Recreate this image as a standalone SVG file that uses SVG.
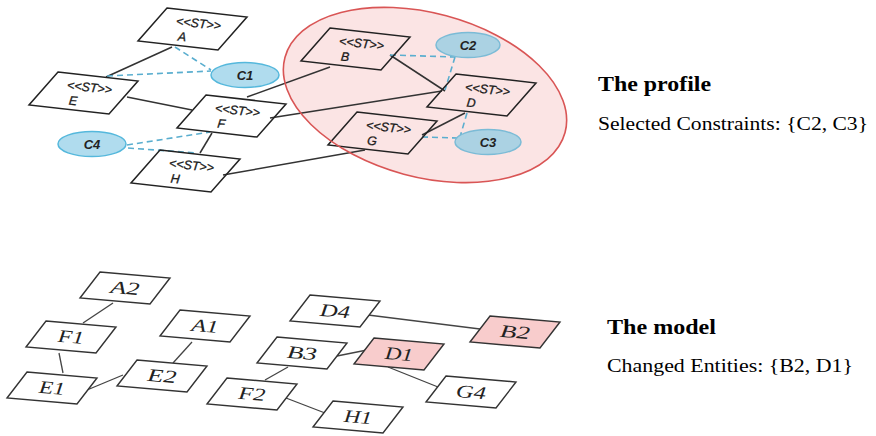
<svg xmlns="http://www.w3.org/2000/svg" xmlns:xlink="http://www.w3.org/1999/xlink" width="876" height="436" viewBox="0 0 876 436">
  <style>
    .st { fill: none; stroke: #222; stroke-width: 1.5; }
    .stl { font-family: "Liberation Sans", Arial, sans-serif; font-style: italic; font-size: 12.5px; fill: #1a1a1a; stroke: #1a1a1a; stroke-width: 0.3; text-anchor: middle; }
    .con { fill: #b0dcee; stroke: #55b8dc; stroke-width: 1.5; }
    .conl { font-family: "Liberation Sans", Arial, sans-serif; font-style: italic; font-weight: bold; font-size: 13px; fill: #222; text-anchor: middle; }
    .link { stroke: #333; stroke-width: 1.5; fill: none; }
    .dash { stroke: #5aaecf; stroke-width: 1.6; stroke-dasharray: 6 4; fill: none; }
    .ent { fill: #fff; stroke: #333; stroke-width: 1.4; }
    .hot { fill: #f8cccc; }
    .entl { font-family: "Liberation Serif", "Times New Roman", serif; font-style: italic; font-size: 18px; fill: #222; text-anchor: middle; }
    .thin { stroke: #444; stroke-width: 1.3; fill: none; }
    .head { font-family: "Liberation Serif", "Times New Roman", serif; font-weight: bold; font-size: 22px; fill: #000; }
    .sub { font-family: "Liberation Serif", "Times New Roman", serif; font-size: 18.5px; fill: #000; }
  </style>
  <defs>
    <!-- slanted box for stereotyped elements -->
    <path id="stbox" d="M0,0 L80,9 L51,42 L-29,33 Z"/>
    <!-- slanted box for model entities -->
    <path id="entbox" d="M0,0 L70,6 L50,32 L-20,26 Z"/>
    <ellipse id="region" cx="425" cy="95" rx="145" ry="82" transform="rotate(15 425 95)"/>
  </defs>

  <!-- profile selection region: tint underneath -->
  <use xlink:href="#region" fill="#fbe4e4" stroke="none"/>

  <!-- ===== profile: connectors ===== -->
  <g id="profile-connectors">
    <line class="link" x1="172" y1="47" x2="106" y2="77"/>
    <line class="link" x1="127" y1="97" x2="192" y2="110"/>
    <line class="link" x1="247" y1="97" x2="330" y2="67"/>
    <line class="link" x1="270" y1="118" x2="442" y2="91"/>
    <line class="link" x1="212" y1="133" x2="200" y2="153"/>
    <line class="link" x1="223" y1="175" x2="365" y2="150"/>
    <line class="link" x1="390" y1="55" x2="445" y2="91"/>
    <line class="link" x1="422" y1="135" x2="465" y2="113"/>
    <line class="dash" x1="175" y1="47" x2="211" y2="70"/>
    <line class="dash" x1="107" y1="76" x2="211" y2="71"/>
    <line class="dash" x1="127" y1="145" x2="210" y2="132"/>
    <line class="dash" x1="128" y1="148" x2="197" y2="153"/>
    <line class="dash" x1="390" y1="55" x2="455" y2="57"/>
    <line class="dash" x1="455" y1="57" x2="445" y2="90"/>
    <line class="dash" x1="467" y1="113" x2="460" y2="137"/>
    <line class="dash" x1="422" y1="137" x2="458" y2="138"/>
  </g>

  <!-- ===== profile: constraints ===== -->
  <g id="C1"><ellipse class="con" cx="245" cy="75" rx="34" ry="12.5"/><text class="conl" x="245" y="80">C1</text></g>
  <g id="C4"><ellipse class="con" cx="92" cy="144" rx="34" ry="12.5"/><text class="conl" x="92" y="149">C4</text></g>
  <g id="C2"><ellipse class="con" cx="468" cy="45" rx="32" ry="12.5" style="fill:#abd2e3;stroke:#7bbbd6"/><text class="conl" x="468" y="50">C2</text></g>
  <g id="C3"><ellipse class="con" cx="488" cy="142" rx="33" ry="12.5" style="fill:#abd2e3;stroke:#7bbbd6"/><text class="conl" x="488" y="147">C3</text></g>

  <!-- ===== profile: stereotyped elements ===== -->
  <g id="A" transform="translate(167,8)"><use xlink:href="#stbox" class="st"/><g transform="rotate(6 25 21)" class="stl"><text x="31" y="19">&lt;&lt;ST&gt;&gt;</text><text x="16" y="34">A</text></g></g>
  <g id="E" transform="translate(58,72)"><use xlink:href="#stbox" class="st"/><g transform="rotate(6 25 21)" class="stl"><text x="31" y="19">&lt;&lt;ST&gt;&gt;</text><text x="16" y="34">E</text></g></g>
  <g id="F" transform="translate(206,95)"><use xlink:href="#stbox" class="st"/><g transform="rotate(6 25 21)" class="stl"><text x="31" y="19">&lt;&lt;ST&gt;&gt;</text><text x="16" y="34">F</text></g></g>
  <g id="H" transform="translate(160,150)"><use xlink:href="#stbox" class="st"/><g transform="rotate(6 25 21)" class="stl"><text x="31" y="19">&lt;&lt;ST&gt;&gt;</text><text x="16" y="34">H</text></g></g>
  <g id="B" transform="translate(330,28)"><use xlink:href="#stbox" class="st"/><g transform="rotate(6 25 21)" class="stl"><text x="31" y="19">&lt;&lt;ST&gt;&gt;</text><text x="16" y="34">B</text></g></g>
  <g id="D" transform="translate(456,74)"><use xlink:href="#stbox" class="st"/><g transform="rotate(6 25 21)" class="stl"><text x="31" y="19">&lt;&lt;ST&gt;&gt;</text><text x="16" y="34">D</text></g></g>
  <g id="G" transform="translate(357,112)"><use xlink:href="#stbox" class="st"/><g transform="rotate(6 25 21)" class="stl"><text x="31" y="19">&lt;&lt;ST&gt;&gt;</text><text x="16" y="34">G</text></g></g>

  <!-- profile selection region: outline on top -->
  <g id="selection">
    <use xlink:href="#region" fill="none" stroke="#d95555" stroke-width="1.6"/>
  </g>

  <g id="profile-caption">
    <text class="head" x="598" y="91" textLength="113" lengthAdjust="spacingAndGlyphs">The profile</text>
    <text class="sub" x="598" y="130" textLength="270" lengthAdjust="spacingAndGlyphs">Selected Constraints:  {C2, C3}</text>
  </g>

  <!-- ===== model: connectors ===== -->
  <g id="model-connectors">
    <line class="thin" x1="113" y1="303" x2="83" y2="323"/>
    <line class="thin" x1="59" y1="353" x2="63" y2="373"/>
    <line class="thin" x1="87" y1="390" x2="123" y2="375"/>
    <line class="thin" x1="192" y1="342" x2="173" y2="363"/>
    <line class="thin" x1="368" y1="315" x2="480" y2="329"/>
    <line class="thin" x1="337" y1="356" x2="367" y2="350"/>
    <line class="thin" x1="288" y1="367" x2="265" y2="380"/>
    <line class="thin" x1="388" y1="367" x2="438" y2="387"/>
    <line class="thin" x1="286" y1="398" x2="325" y2="413"/>
  </g>

  <!-- ===== model: entities ===== -->
  <g id="A2" transform="translate(100,272)"><use xlink:href="#entbox" class="ent"/><text class="entl" x="25" y="22" transform="rotate(5 25 16)" textLength="29" lengthAdjust="spacingAndGlyphs">A2</text></g>
  <g id="F1" transform="translate(46,321)"><use xlink:href="#entbox" class="ent"/><text class="entl" x="25" y="22" transform="rotate(5 25 16)" textLength="26" lengthAdjust="spacingAndGlyphs">F1</text></g>
  <g id="E1" transform="translate(27,372)"><use xlink:href="#entbox" class="ent"/><text class="entl" x="25" y="22" transform="rotate(5 25 16)" textLength="26" lengthAdjust="spacingAndGlyphs">E1</text></g>
  <g id="A1" transform="translate(180,310)"><use xlink:href="#entbox" class="ent"/><text class="entl" x="25" y="22" transform="rotate(5 25 16)" textLength="27" lengthAdjust="spacingAndGlyphs">A1</text></g>
  <g id="E2" transform="translate(137,360)"><use xlink:href="#entbox" class="ent"/><text class="entl" x="25" y="22" transform="rotate(5 25 16)" textLength="29" lengthAdjust="spacingAndGlyphs">E2</text></g>
  <g id="D4" transform="translate(310,295)"><use xlink:href="#entbox" class="ent"/><text class="entl" x="25" y="22" transform="rotate(5 25 16)" textLength="30" lengthAdjust="spacingAndGlyphs">D4</text></g>
  <g id="B2" transform="translate(490,316)"><use xlink:href="#entbox" class="ent hot"/><text class="entl" x="25" y="22" transform="rotate(5 25 16)" textLength="30" lengthAdjust="spacingAndGlyphs">B2</text></g>
  <g id="B3" transform="translate(277,337)"><use xlink:href="#entbox" class="ent"/><text class="entl" x="25" y="22" transform="rotate(5 25 16)" textLength="30" lengthAdjust="spacingAndGlyphs">B3</text></g>
  <g id="D1" transform="translate(374,338)"><use xlink:href="#entbox" class="ent hot"/><text class="entl" x="25" y="22" transform="rotate(5 25 16)" textLength="28" lengthAdjust="spacingAndGlyphs">D1</text></g>
  <g id="F2" transform="translate(227,378)"><use xlink:href="#entbox" class="ent"/><text class="entl" x="25" y="22" transform="rotate(5 25 16)" textLength="27" lengthAdjust="spacingAndGlyphs">F2</text></g>
  <g id="G4" transform="translate(446,376)"><use xlink:href="#entbox" class="ent"/><text class="entl" x="25" y="22" transform="rotate(5 25 16)" textLength="30" lengthAdjust="spacingAndGlyphs">G4</text></g>
  <g id="H1" transform="translate(333,401)"><use xlink:href="#entbox" class="ent"/><text class="entl" x="25" y="22" transform="rotate(5 25 16)" textLength="28" lengthAdjust="spacingAndGlyphs">H1</text></g>

  <g id="model-caption">
    <text class="head" x="607" y="334" textLength="109" lengthAdjust="spacingAndGlyphs">The model</text>
    <text class="sub" x="607" y="372" textLength="246" lengthAdjust="spacingAndGlyphs">Changed Entities:  {B2, D1}</text>
  </g>
</svg>
